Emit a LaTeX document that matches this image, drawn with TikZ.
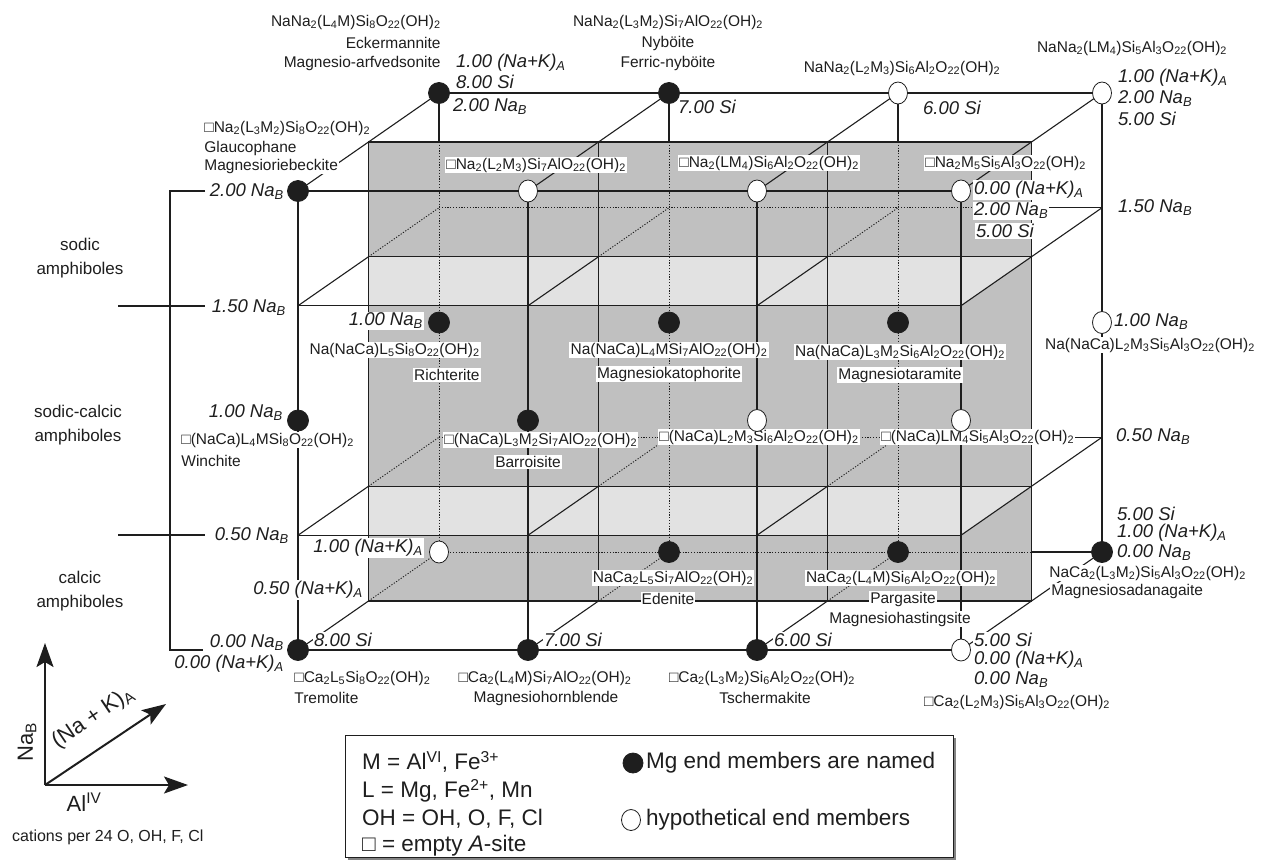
\documentclass[tikz,border=0pt]{standalone}
\usepackage{fontspec}
\setmainfont{Liberation Sans}
\usetikzlibrary{arrows.meta,shapes.geometric,calc}
\newcommand\sbs[1]{\textsubscript{#1}}
\newcommand\sps[1]{\textsuperscript{#1}}
\definecolor{ink}{RGB}{30,30,30}
\definecolor{plane}{RGB}{192,192,192}
\definecolor{slab}{RGB}{226,226,226}
\begin{document}
\begin{tikzpicture}[x=1pt,y=-1pt,
  ln/.style={draw=ink,line width=1.1pt},
  dt/.style={draw=ink,line width=0.9pt,dash pattern=on 1.2pt off 1.6pt},
  fml/.style={font=\fontsize{15.5}{16}\selectfont,text=ink,fill=white,inner sep=1.2pt},
  itl/.style={font=\fontsize{18.5}{19}\selectfont\itshape,text=ink,fill=white,inner sep=1pt},
  side/.style={font=\fontsize{17}{24}\selectfont,text=ink,align=center},
  full/.style={circle,draw=ink,fill=ink,minimum size=21pt,inner sep=0pt,line width=0.8pt},
  hypo/.style={ellipse,draw=ink,fill=white,minimum width=19pt,minimum height=22pt,inner sep=0pt,line width=0.8pt},
  lg/.style={font=\fontsize{22.5}{24}\selectfont,text=ink,anchor=west,inner sep=0pt},
  axarrow/.style={draw=ink,line width=2pt,-{Stealth[length=24pt,width=17pt,inset=5pt]}}
]
\useasboundingbox (0,0) rectangle (1262,863);
% grid coordinates: f = front (A=0), m = A=0.5, b = back (A=1)
\foreach \i/\x in {0/298,1/528,2/757,3/961}{
  \foreach \j/\y in {0/650,05/535.25,1/420.5,15/305.75,2/191}{
    \coordinate (f\i-\j) at (\x,\y);
    \coordinate (m\i-\j) at (\x+70.5,\y-49);
    \coordinate (b\i-\j) at (\x+141,\y-98);
  }
}
% shaded plane (A = 0.5)
\fill[plane] (m0-2) rectangle (m3-0);
\begin{scope}
  \clip (m0-2) rectangle (m3-0);
  \fill[slab] (f0-15) -- (f3-15) -- (m3-15) -- (m0-15) -- cycle;
  \fill[slab] (f0-05) -- (f3-05) -- (m3-05) -- (m0-05) -- cycle;
\end{scope}
\draw[ln] (m0-2) rectangle (m3-0);
\draw[ln] (m1-2) -- (m1-0) (m2-2) -- (m2-0);
\draw[ln] (m0-15) -- (m3-15) (m0-05) -- (m3-05);
% back face
\foreach \i in {0,1,2}{
  \draw[ln] (b\i-2) -- ($(b\i-2)+(0,49)$);
  \draw[dt] ($(b\i-2)+(0,49)$) -- (b\i-0);
}
\draw[ln] (b0-2) -- (b3-2) (b3-2) -- (b3-0);
\foreach \j in {0,05,15}{
  \draw[dt] (b0-\j) -- ($(b3-\j)+(-70.5,0)$);
  \draw[ln] ($(b3-\j)+(-70.5,0)$) -- (b3-\j);
  \foreach \i in {0,1,2}{
    \draw[ln] (f\i-\j) -- (m\i-\j);
    \draw[dt] (m\i-\j) -- (b\i-\j);
  }
  \draw[ln] (f3-\j) -- (b3-\j);
}
\foreach \i in {0,1,2,3}{\draw[ln] (f\i-2) -- (b\i-2);}
% front face
\foreach \i in {0,1,2,3}{\draw[ln] (f\i-2) -- (f\i-0);}
\foreach \j in {2,15,05,0}{\draw[ln] (f0-\j) -- (f3-\j);}
% left bracket
\coordinate (brt) at (170,191); \coordinate (brb) at (170,650);
\draw[ln] (205,191) -- (brt) -- (brb) -- (203,650);
\draw[ln] (118,306) -- (205,306) (118,535) -- (205,535);
\node[side] (sod) at (80,258) {sodic\\amphiboles};
\node[side] (sodc) at (78,425) {sodic-calcic\\amphiboles};
\node[side] (calc) at (80,591) {calcic\\amphiboles};
% ---- labels: top back row
\node[fml,anchor=east] (eckf) at (442,22) {NaNa\sbs2(L\sbs4M)Si\sbs8O\sbs{22}(OH)\sbs2};
\node[fml,anchor=east] (eckn) at (442,43) {Eckermannite};
\node[fml,anchor=east] (eckm) at (442,63) {Magnesio-arfvedsonite};
\node[itl,anchor=west] (ecka) at (455,63) {1.00 (Na+K)\sbs A};
\node[itl,anchor=west] (ecks) at (455,82) {8.00 Si};
\node[itl,anchor=west] (eckb) at (452,107) {2.00 Na\sbs B};
\node[fml] (nybf) at (668,22) {NaNa\sbs2(L\sbs3M\sbs2)Si\sbs7AlO\sbs{22}(OH)\sbs2};
\node[fml] (nybn) at (668,43) {Nyböite};
\node[fml] (nybm) at (668,63) {Ferric-nyböite};
\node[itl,anchor=west] (nybs) at (677,107) {7.00 Si};
\node[fml] (btwf) at (902,68) {NaNa\sbs2(L\sbs2M\sbs3)Si\sbs6Al\sbs2O\sbs{22}(OH)\sbs2};
\node[itl,anchor=west] (btws) at (922,108) {6.00 Si};
\node[fml] (bthf) at (1132,48) {NaNa\sbs2(LM\sbs4)Si\sbs5Al\sbs3O\sbs{22}(OH)\sbs2};
\node[itl,anchor=west] (btha) at (1117,78) {1.00 (Na+K)\sbs A};
\node[itl,anchor=west] (bthb) at (1117,99) {2.00 Na\sbs B};
\node[itl,anchor=west] (bths) at (1117,119) {5.00 Si};
% ---- front top row
\node[fml,anchor=west] (glf) at (203,128) {□Na\sbs2(L\sbs3M\sbs2)Si\sbs8O\sbs{22}(OH)\sbs2};
\node[fml,anchor=west] (gln) at (203,148) {Glaucophane};
\node[fml,anchor=west] (glm) at (203,166) {Magnesioriebeckite};
\node[itl,anchor=east] (glb) at (285,192) {2.00 Na\sbs B};
\node[fml,anchor=west] (ftof) at (445,165) {□Na\sbs2(L\sbs2M\sbs3)Si\sbs7AlO\sbs{22}(OH)\sbs2};
\node[fml,anchor=west] (ftwf) at (678,163) {□Na\sbs2(LM\sbs4)Si\sbs6Al\sbs2O\sbs{22}(OH)\sbs2};
\node[fml,anchor=west] (fthf) at (924,163) {□Na\sbs2M\sbs5Si\sbs5Al\sbs3O\sbs{22}(OH)\sbs2};
\node[itl,anchor=west] (ftha) at (973,190) {0.00 (Na+K)\sbs A};
\node[itl,anchor=west] (fthb) at (973,211) {2.00 Na\sbs B};
\node[itl,anchor=west] (fths) at (975,231) {5.00 Si};
% ---- right side
\node[itl,anchor=west] (r15) at (1117,208) {1.50 Na\sbs B};
\node[itl,anchor=west] (r10) at (1113,322) {1.00 Na\sbs B};
\node[fml] (r10f) at (1150,345) {Na(NaCa)L\sbs2M\sbs3Si\sbs5Al\sbs3O\sbs{22}(OH)\sbs2};
\node[itl,anchor=west] (r05) at (1115,437) {0.50 Na\sbs B};
% ---- left scale labels
\node[itl,anchor=east] (l15) at (287,308) {1.50 Na\sbs B};
\node[itl,anchor=east] (l10) at (284,413) {1.00 Na\sbs B};
\node[itl,anchor=east] (l05) at (290,536) {0.50 Na\sbs B};
\node[itl,anchor=east] (l00) at (285,643) {0.00 Na\sbs B};
\node[itl,anchor=east] (l00a) at (285,664) {0.00 (Na+K)\sbs A};
% ---- middle level
\node[itl,anchor=east] (ri1) at (424,321) {1.00 Na\sbs B};
\node[fml,anchor=east] (rif) at (481,350) {Na(NaCa)L\sbs5Si\sbs8O\sbs{22}(OH)\sbs2};
\node[fml,anchor=east] (rin) at (481,375) {Richterite};
\node[fml] (kaf) at (669,350) {Na(NaCa)L\sbs4MSi\sbs7AlO\sbs{22}(OH)\sbs2};
\node[fml] (kan) at (669,374) {Magnesiokatophorite};
\node[fml] (taf) at (900,352) {Na(NaCa)L\sbs3M\sbs2Si\sbs6Al\sbs2O\sbs{22}(OH)\sbs2};
\node[fml] (tan) at (900,375) {Magnesiotaramite};
\node[fml,anchor=west] (wif) at (180,440) {□(NaCa)L\sbs4MSi\sbs8O\sbs{22}(OH)\sbs2};
\node[fml,anchor=west] (win) at (180,461) {Winchite};
\node[fml,anchor=west] (baf) at (443,440) {□(NaCa)L\sbs3M\sbs2Si\sbs7AlO\sbs{22}(OH)\sbs2};
\node[fml] (ban) at (528,462) {Barroisite};
\node[fml,anchor=west] (fmwf) at (658,437) {□(NaCa)L\sbs2M\sbs3Si\sbs6Al\sbs2O\sbs{22}(OH)\sbs2};
\node[fml,anchor=west] (fmhf) at (880,437) {□(NaCa)LM\sbs4Si\sbs5Al\sbs3O\sbs{22}(OH)\sbs2};
% ---- bottom level
\node[itl,anchor=east] (bba) at (424,548) {1.00 (Na+K)\sbs A};
\node[itl,anchor=east] (mba) at (364,590) {0.50 (Na+K)\sbs A};
\node[itl,anchor=west] (s8) at (313,640) {8.00 Si};
\node[itl,anchor=west] (s7) at (543,640) {7.00 Si};
\node[itl,anchor=west] (s6) at (773,640) {6.00 Si};
\node[fml,anchor=west] (trf) at (293,678) {□Ca\sbs2L\sbs5Si\sbs8O\sbs{22}(OH)\sbs2};
\node[fml,anchor=west] (trn) at (293,698) {Tremolite};
\node[fml] (hbf) at (545,678) {□Ca\sbs2(L\sbs4M)Si\sbs7AlO\sbs{22}(OH)\sbs2};
\node[fml] (hbn) at (546,698) {Magnesiohornblende};
\node[fml] (tsf) at (762,678) {□Ca\sbs2(L\sbs3M\sbs2)Si\sbs6Al\sbs2O\sbs{22}(OH)\sbs2};
\node[fml] (tsn) at (765,698) {Tschermakite};
\node[fml] (edf) at (673,578) {NaCa\sbs2L\sbs5Si\sbs7AlO\sbs{22}(OH)\sbs2};
\node[fml] (edn) at (668,599) {Edenite};
\node[fml] (paf) at (901,578) {NaCa\sbs2(L\sbs4M)Si\sbs6Al\sbs2O\sbs{22}(OH)\sbs2};
\node[fml] (pan) at (903,599) {Pargasite};
\node[fml] (pam) at (900,619) {Magnesiohastingsite};
\node[itl,anchor=west] (sds) at (1116,514) {5.00 Si};
\node[itl,anchor=west] (sda) at (1116,533) {1.00 (Na+K)\sbs A};
\node[itl,anchor=west] (sdb) at (1116,553) {0.00 Na\sbs B};
\node[fml,anchor=west] (sdf) at (1048,573) {NaCa\sbs2(L\sbs3M\sbs2)Si\sbs5Al\sbs3O\sbs{22}(OH)\sbs2};
\node[fml,anchor=west] (sdn) at (1050,591) {Magnesiosadanagaite};
\node[itl,anchor=west] (brs) at (973,640) {5.00 Si};
\node[itl,anchor=west] (bra) at (973,660) {0.00 (Na+K)\sbs A};
\node[itl,anchor=west] (brb) at (973,680) {0.00 Na\sbs B};
\node[fml] (brf) at (1017,702) {□Ca\sbs2(L\sbs2M\sbs3)Si\sbs5Al\sbs3O\sbs{22}(OH)\sbs2};
% ---- end-member circles
\node[full] (c-eck) at (b0-2) {};
\node[full] (c-nyb) at (b1-2) {};
\node[hypo] (c-b22) at (b2-2) {};
\node[hypo] (c-b32) at (b3-2) {};
\node[full] (c-gla) at (f0-2) {};
\node[hypo] (c-f12) at (f1-2) {};
\node[hypo] (c-f22) at (f2-2) {};
\node[hypo] (c-f32) at (f3-2) {};
\node[full] (c-ric) at (b0-1) {};
\node[full] (c-win) at (f0-1) {};
\node[full] (c-kat) at (b1-1) {};
\node[full] (c-bar) at (f1-1) {};
\node[full] (c-tar) at (b2-1) {};
\node[hypo] (c-f21) at (f2-1) {};
\node[hypo] (c-b31) at (b3-1) {};
\node[hypo] (c-f31) at (f3-1) {};
\node[hypo] (c-b00) at (b0-0) {};
\node[full] (c-tre) at (f0-0) {};
\node[full] (c-ede) at (b1-0) {};
\node[full] (c-hbl) at (f1-0) {};
\node[full] (c-par) at (b2-0) {};
\node[full] (c-tsc) at (f2-0) {};
\node[full] (c-sad) at (b3-0) {};
\node[hypo] (c-f30) at (f3-0) {};
% ---- axes key
\coordinate (ao) at (45,785);
\coordinate (ay) at (45,643);
\coordinate (ax) at (188,785);
\coordinate (az) at (166,704);
\draw[axarrow] (ao) -- (ay);
\draw[axarrow] (ao) -- (ax);
\draw[axarrow] (ao) -- (az);
\node[font=\fontsize{22}{24}\selectfont,text=ink,rotate=90] (kNa) at (27,742) {Na\sbs B};
\node[font=\fontsize{22}{24}\selectfont,text=ink] (kAl) at (84,802) {Al\sps{IV}};
\node[font=\fontsize{22}{24}\selectfont,text=ink,rotate=34] (kA) at (93,718) {(Na + K)\sbs A};
\node[font=\fontsize{16}{18}\selectfont,text=ink,anchor=west,inner sep=0pt] (kcat) at (12,837) {cations per 24 O, OH, F, Cl};
% ---- legend
\fill[ink!55] (348,738) rectangle (956,860);
\draw[ink,line width=1pt,fill=white] (345,735) rectangle (953,857);
\node[lg] (lgM) at (362,762) {M = Al\sps{VI}, Fe\sps{3+}};
\node[lg] (lgL) at (362,791) {L = Mg, Fe\sps{2+}, Mn};
\node[lg] (lgO) at (362,819) {OH = OH, O, F, Cl};
\node[lg] (lgE) at (362,846) {□ = empty \textit{A}-site};
\node[full,minimum size=20pt] (lgcf) at (633,763) {};
\node[lg] (lgtf) at (646,763) {Mg end members are named};
\node[hypo,minimum width=19pt,minimum height=21pt] (lgch) at (631,820) {};
\node[lg] (lgth) at (646,820) {hypothetical end members};
\end{tikzpicture}
\end{document}
